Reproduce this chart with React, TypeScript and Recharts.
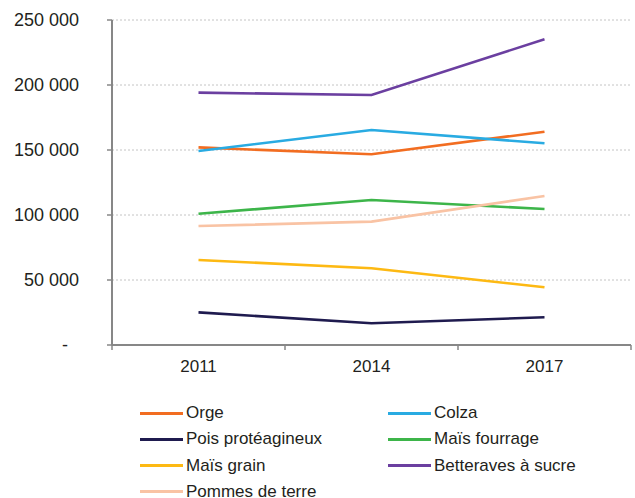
import React from 'react';
import { LineChart, Line, XAxis, YAxis, CartesianGrid } from 'recharts';

// Surfaces by crop (ha), by census year
const years = ['2011', '2014', '2017'];
const orge = [152000, 146700, 164100];
const colza = [149200, 165400, 155200];
const poisProteagineux = [25100, 16700, 21300];
const maisFourrage = [101000, 111500, 104600];
const maisGrain = [65400, 59000, 44400];
const betteraves = [194100, 192300, 235200];
const pommesDeTerre = [91500, 94900, 114600];
const yTicks = [0, 50000, 100000, 150000, 200000, 250000];

const series = [
  { key: 'orge', name: 'Orge', values: orge, color: '#F26D21' },
  { key: 'colza', name: 'Colza', values: colza, color: '#29ABE2' },
  { key: 'pois', name: 'Pois protéagineux', values: poisProteagineux, color: '#1F1B4F' },
  { key: 'maisFourrage', name: 'Maïs fourrage', values: maisFourrage, color: '#3DB54A' },
  { key: 'maisGrain', name: 'Maïs grain', values: maisGrain, color: '#FDB913' },
  { key: 'betteraves', name: 'Betteraves à sucre', values: betteraves, color: '#6B3FA0' },
  { key: 'pommes', name: 'Pommes de terre', values: pommesDeTerre, color: '#F9C3A4' },
];

const data = years.map((year, i) => {
  const row: Record<string, string | number> = { year };
  series.forEach((s) => {
    row[s.key] = s.values[i];
  });
  return row;
});

const FONT = '"Liberation Sans", Arial, sans-serif';
const AXIS = '#878787';
const TEXT = '#231F20';

const formatValue = (v: number) =>
  v === 0 ? '-' : v.toLocaleString('en-US').replace(/,/g, ' ');

const YTick = (props: any) => {
  const { x, y, payload } = props;
  const isZero = payload.value === 0;
  return (
    <g>
      <line x1={x - 5} x2={x} y1={y} y2={y} stroke={AXIS} strokeWidth={1.5} />
      <text
        x={isZero ? x - 44 : x - 33}
        y={y}
        dy="0.36em"
        textAnchor="end"
        fontFamily={FONT}
        fontSize={18}
        fill={TEXT}
      >
        {formatValue(payload.value)}
      </text>
    </g>
  );
};

const XTick = (props: any) => {
  const { x, y, payload, index, visibleTicksCount } = props;
  const half = payload.offset ?? 86.5;
  const isLast = index === visibleTicksCount - 1;
  return (
    <g>
      <line x1={x - half} x2={x - half} y1={y} y2={y + 5} stroke={AXIS} strokeWidth={1.5} />
      {isLast && (
        <line x1={x + half} x2={x + half} y1={y} y2={y + 5} stroke={AXIS} strokeWidth={1.5} />
      )}
      <text
        x={x}
        y={y + 21}
        dy="0.36em"
        textAnchor="middle"
        fontFamily={FONT}
        fontSize={17}
        fill={TEXT}
      >
        {payload.value}
      </text>
    </g>
  );
};

export default function App() {
  return (
    <div style={{ position: 'absolute', left: 0, top: 0, width: 635, height: 498, background: '#fff' }}>
      <LineChart
        width={635}
        height={498}
        data={data}
        margin={{ top: 20, right: 4, bottom: 123, left: 0 }}
      >
        <CartesianGrid vertical={false} stroke="#c4c4c4" strokeDasharray="2 2" />
        <XAxis
          dataKey="year"
          scale="band"
          height={30}
          tickSize={0}
          tickMargin={0}
          tickLine={false}
          axisLine={{ stroke: AXIS, strokeWidth: 2 }}
          tick={<XTick />}
          interval={0}
        />
        <YAxis
          width={112}
          domain={[0, 250000]}
          ticks={yTicks}
          tickSize={0}
          tickMargin={0}
          tickLine={false}
          axisLine={{ stroke: AXIS, strokeWidth: 2 }}
          tick={<YTick />}
          interval={0}
        />
        {series.map((s) => (
          <Line
            key={s.key}
            dataKey={s.key}
            name={s.name}
            stroke={s.color}
            strokeWidth={2.6}
            dot={false}
            activeDot={false}
            type="linear"
            isAnimationActive={false}
          />
        ))}
      </LineChart>
      {series.map((s, i) => {
        const col = i % 2;
        const row = Math.floor(i / 2);
        return (
          <div
            key={s.key}
            style={{
              position: 'absolute',
              left: col === 0 ? 140 : 388,
              top: 403 + row * 26.3,
              height: 20,
              display: 'flex',
              alignItems: 'center',
              fontFamily: FONT,
              fontSize: 17,
              color: TEXT,
              whiteSpace: 'nowrap',
            }}
          >
            <span style={{ display: 'inline-block', width: 43, height: 3, background: s.color, marginRight: 3 }} />
            <span>{s.name}</span>
          </div>
        );
      })}
    </div>
  );
}
